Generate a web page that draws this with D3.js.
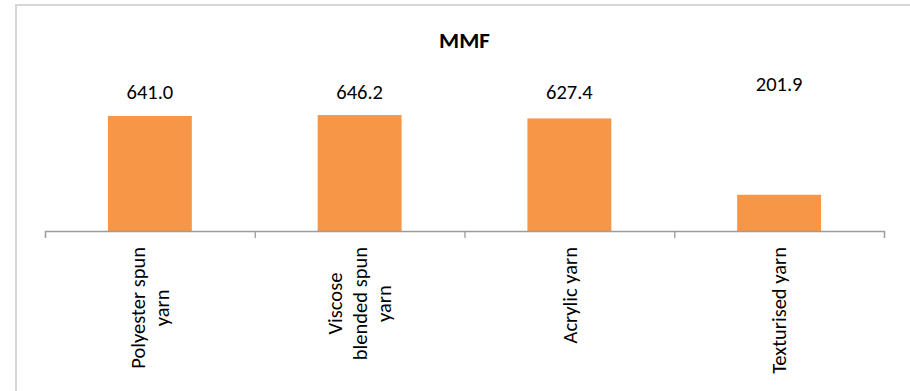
<!DOCTYPE html>
<html>
<head>
<meta charset="utf-8">
<script src="https://cdn.jsdelivr.net/npm/d3@7"></script>
<style>
  html, body { margin: 0; padding: 0; background: #fff; }
  svg { display: block; }
  text { font-family: Carlito, Calibri, Lato, "Open Sans", sans-serif; fill: #000; }
</style>
</head>
<body>
<svg id="chart" width="910" height="391"></svg>
<script>
// MMF yarn output by type
const title = "MMF";
const categories = [
  ["Polyester spun", "yarn"],
  ["Viscose", "blended spun", "yarn"],
  ["Acrylic yarn"],
  ["Texturised yarn"]
];
const values = [641.0, 646.2, 627.4, 201.9];
const valueLabels = ["641.0", "646.2", "627.4", "201.9"];

const W = 910, H = 391;
const svg = d3.select("#chart");

// chart-area frame (top and left edges visible)
svg.append("path")
  .attr("d", `M16,${H + 5} V5 H${W + 5}`)
  .attr("fill", "none")
  .attr("stroke", "#d6d6d6")
  .attr("stroke-width", 2);

const plot = { left: 45, right: 884, base: 231 };
const keys = categories.map((c, i) => i);

const x = d3.scaleBand()
  .domain(keys)
  .range([plot.left, plot.right])
  .paddingInner(0.6)
  .paddingOuter(0.3);

const y = d3.scaleLinear()
  .domain([0, 700])
  .range([plot.base, plot.base - 700 * 0.1794]);

// bars
svg.append("g").selectAll("rect")
  .data(values)
  .join("rect")
  .attr("x", (d, i) => x(i))
  .attr("width", x.bandwidth())
  .attr("y", d => y(d))
  .attr("height", d => y(0) - y(d))
  .attr("fill", "#F79646");

// category axis with tick marks between categories
const edge = d3.scaleLinear().domain([0, keys.length]).range([plot.left, plot.right]);
const axis = svg.append("g")
  .attr("transform", `translate(0,${plot.base})`)
  .call(d3.axisBottom(edge)
    .tickValues(d3.range(keys.length + 1))
    .tickFormat("")
    .tickSize(7)
    .tickSizeOuter(7));
axis.select(".domain").attr("stroke", "#9c9c9c").attr("stroke-width", 1.3);
axis.selectAll(".tick line").attr("stroke", "#9c9c9c").attr("stroke-width", 1.3);

// value labels, set in a row above the bars
const labelBaseline = [99, 99, 99, 91];
svg.append("g").selectAll("text")
  .data(valueLabels)
  .join("text")
  .attr("x", (d, i) => x(i) + x.bandwidth() / 2)
  .attr("y", (d, i) => labelBaseline[i])
  .attr("text-anchor", "middle")
  .style("font-size", "20.5px")
  .text(d => d);

// rotated category names, lines centred on each other
const lh = 24.5, topEnd = 247;
categories.forEach((lines, i) => {
  const cx = x(i) + x.bandwidth() / 2;
  const g = svg.append("g").attr("transform", `translate(${cx},${topEnd}) rotate(-90)`);
  const t = g.append("text").attr("text-anchor", "middle").style("font-size", "20.5px");
  lines.forEach((ln, j) => {
    t.append("tspan")
      .attr("x", 0)
      .attr("y", (j - (lines.length - 1) / 2) * lh)
      .attr("dy", "0.35em")
      .text(ln);
  });
  let maxLen = 0;
  t.selectAll("tspan").each(function () { maxLen = Math.max(maxLen, this.getComputedTextLength()); });
  t.selectAll("tspan").attr("x", -maxLen / 2);
});

// title
svg.append("text")
  .attr("x", (plot.left + plot.right) / 2)
  .attr("y", 48)
  .attr("text-anchor", "middle")
  .style("font-size", "23px")
  .style("font-weight", "bold")
  .text(title);
</script>
</body>
</html>
